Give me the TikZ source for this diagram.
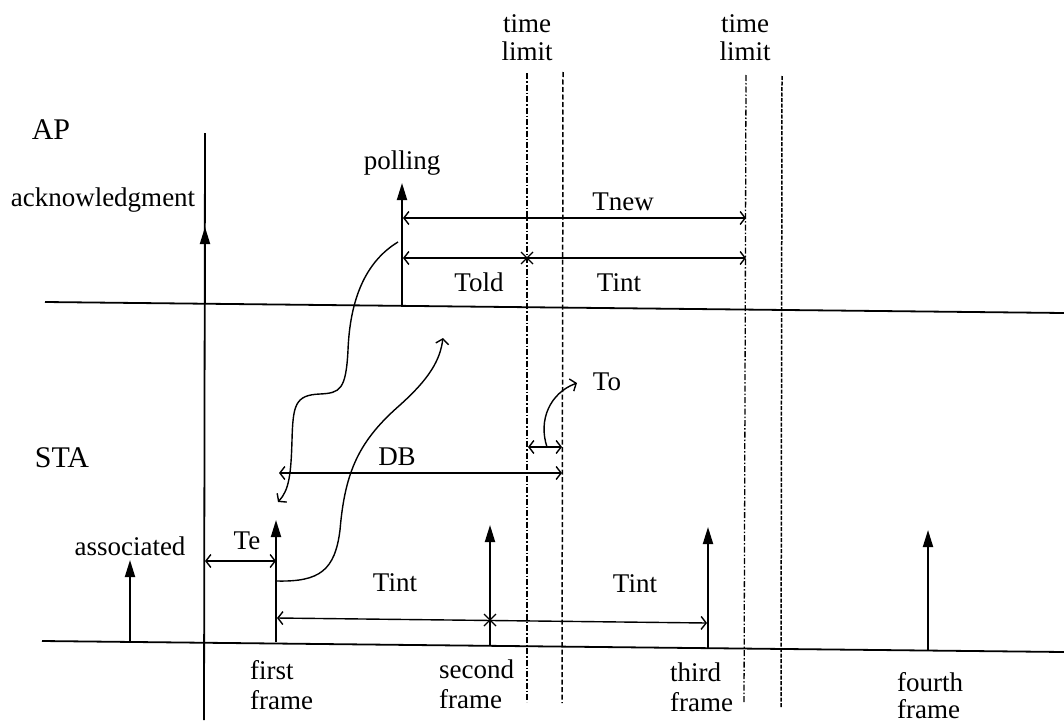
\documentclass[tikz,border=0pt]{standalone}
\usepackage{fontspec}
\setmainfont{Liberation Serif}
\usetikzlibrary{arrows.meta,calc}
\begin{document}
\begin{tikzpicture}[x=1pt,y=-1pt,
  base/.style={line width=1.8pt},
  up/.style={line width=1.9pt,-{Triangle[length=17pt,width=10pt]}},
  dimline/.style={line width=1.4pt,{Straight Barb[length=5pt,width=13pt]}-{Straight Barb[length=5pt,width=13pt]}},
  oneway/.style={line width=1.4pt,-{Straight Barb[length=5pt,width=13pt]}},
  dd/.style={line width=1.3pt,dash pattern=on 6pt off 2pt on 1.5pt off 2pt},
  ds/.style={line width=1.5pt,dash pattern=on 5pt off 2.5pt},
  lbl/.style={inner sep=0pt,font=\fontsize{27}{29}\selectfont},
  big/.style={inner sep=0pt,font=\fontsize{30}{32}\selectfont},
  two/.style={inner sep=0pt,align=left,font=\fontsize{27}{30}\selectfont},
  twoc/.style={inner sep=0pt,align=center,font=\fontsize{27}{28}\selectfont}]
\useasboundingbox (0,0) rectangle (1064,725);

% baselines
\coordinate (apL) at (45,302); \coordinate (apR) at (1064,313);
\coordinate (staL) at (42,641); \coordinate (staR) at (1064,652);
\draw[base] (apL) -- (apR);
\draw[base] (staL) -- (staR);

% main vertical line
\coordinate (vT) at (205,133); \coordinate (vB) at (204,720);
\draw[base] (vT) -- (vB);

% dashed lines
\coordinate (d1t) at (527,73); \coordinate (d1b) at (527,702);
\coordinate (d2t) at (563,72); \coordinate (d2b) at (562,703);
\coordinate (d3t) at (746,75); \coordinate (d3b) at (744,703);
\coordinate (d4t) at (782,76); \coordinate (d4b) at (781,707);
\draw[dd] (d1t) -- (d1b);
\draw[ds] (d2t) -- (d2b);
\draw[dd] (d3t) -- (d3b);
\draw[ds,dash pattern=on 4pt off 1.5pt] (d4t) -- (d4b);

% labels
\node[big] (AP) at (51,130) {AP};
\node[big] (STA) at (62,458) {STA};
\node[lbl] (ack) at (103,200) {acknowledgment};
\node[lbl] (poll) at (402,163) {polling};
\node[twoc] (tl1) at (527,38) {time\\limit};
\node[twoc] (tl2) at (745,38) {time\\limit};
\node[lbl] (Tnew) at (623,202) {Tnew};
\node[lbl] (Told) at (479,282) {Told};
\node[lbl] (Tint1) at (619,283) {Tint};
\node[lbl] (To) at (607,382) {To};
\node[lbl] (DB) at (397,457) {DB};
\node[lbl] (assoc) at (130,546) {associated};
\node[lbl] (Te) at (247,541) {Te};
\node[lbl] (Tint2) at (395,583) {Tint};
\node[lbl] (Tint3) at (635,584) {Tint};
\node[two,anchor=north west] (f1) at (250,660) {first\\frame};
\node[two,anchor=north west] (f2) at (439,660) {second\\frame};
\node[two,anchor=north west] (f3) at (670,663) {third\\frame};
\node[two,anchor=north west,font=\fontsize{27}{27}\selectfont] (f4) at (897,672) {fourth\\frame};

% vertical arrows
\coordinate (ackB) at (205,303); \coordinate (ackT) at (205,227);
\coordinate (polB) at (402,306); \coordinate (polT) at (402,183);
\coordinate (asB) at (130,641); \coordinate (asT) at (130,560);
\coordinate (f1B) at (276,642); \coordinate (f1T) at (276,520);
\coordinate (f2B) at (490,645); \coordinate (f2T) at (490,525);
\coordinate (f3B) at (708,648); \coordinate (f3T) at (708,527);
\coordinate (f4B) at (928,650); \coordinate (f4T) at (928,530);
\draw[up] (ackB) -- (ackT);
\draw[up] (polB) -- (polT);
\draw[up] (asB) -- (asT);
\draw[up] (f1B) -- (f1T);
\draw[up] (f2B) -- (f2T);
\draw[up] (f3B) -- (f3T);
\draw[up] (f4B) -- (f4T);

% dimension arrows
\coordinate (tnL) at (403,218); \coordinate (tnR) at (746,218);
\coordinate (toL) at (403,258); \coordinate (toR) at (746,258);
\coordinate (xo) at (527,258);
\coordinate (dbL) at (279,473); \coordinate (dbR) at (562,473);
\coordinate (tL) at (528,447); \coordinate (tR) at (562,447);
\coordinate (teL) at (205,561); \coordinate (teR) at (276,561);
\coordinate (tiL) at (277,618); \coordinate (tiR) at (707,623);
\coordinate (xi) at (490,620);
\draw[dimline] (tnL) -- (tnR);
\draw[dimline] (toL) -- (toR);
\draw[dimline] (dbL) -- (dbR);
\draw[dimline] (tL) -- (tR);
\draw[dimline] (teL) -- (teR);
\draw[dimline] (tiL) -- (tiR);
% crosses
\draw[line width=1.3pt] ($(xo)+(-6,-6)$) -- ($(xo)+(6,6)$) ($(xo)+(-6,6)$) -- ($(xo)+(6,-6)$);
\draw[line width=1.3pt] ($(xi)+(-6,-6)$) -- ($(xi)+(6,6)$) ($(xi)+(-6,6)$) -- ($(xi)+(6,-6)$);

% curved arrows
\coordinate (cA0) at (398,242); \coordinate (cA1) at (278,502);
\draw[oneway] (cA0) .. controls (365,262) and (350,300) .. (348,350)
  .. controls (346,390) and (340,393) .. (320,394)
  .. controls (295,395) and (293,405) .. (292,440)
  .. controls (291,475) and (289,490) .. (cA1);
\coordinate (cB0) at (277,581); \coordinate (cB1) at (443,338);
\draw[oneway] (cB0) .. controls (320,582) and (335,570) .. (340,530)
  .. controls (345,470) and (360,440) .. (400,405)
  .. controls (430,378) and (440,360) .. (cB1);
\coordinate (cC0) at (547,447); \coordinate (cC1) at (577,383);
\draw[oneway] (cC0) .. controls (538,420) and (550,393) .. (cC1);
\end{tikzpicture}
\end{document}
